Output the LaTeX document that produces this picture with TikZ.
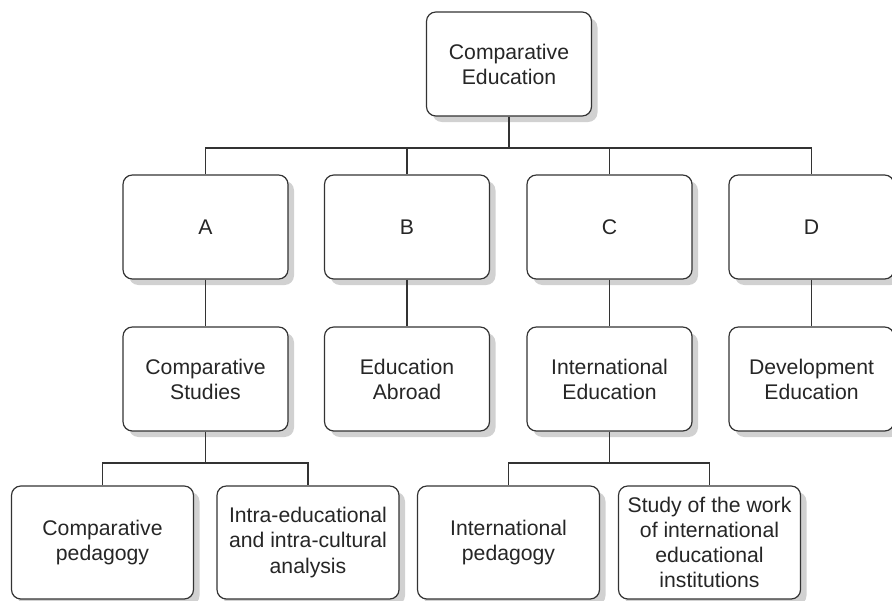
\documentclass[tikz,border=0pt]{standalone}
\usepackage{fontspec}
\setmainfont{Liberation Sans}
\usetikzlibrary{shadows}

\begin{document}
\begin{tikzpicture}[x=0.75pt, y=-0.75pt, line width=0.9pt, draw=black!80,
    box/.style={draw=black!80, fill=white, rounded corners=7pt, align=center,
        minimum width=123.75pt, minimum height=78pt, inner sep=0pt, text=black!85,
        font=\fontsize{15.9}{18.8}\selectfont,
        drop shadow={shadow xshift=4.5pt, shadow yshift=-4.5pt, fill=black!18, opacity=1}},
    leaf/.style={box, minimum width=136.5pt, minimum height=84.75pt}]
    \useasboundingbox (0,0) rectangle (892,600);

    \node[box] (top) at (509,64) {Comparative\\Education};

    \node[box] (a) at (205.5,227) {A};
    \node[box] (b) at (407,227) {B};
    \node[box] (c) at (609.5,227) {C};
    \node[box] (d) at (811.5,227) {D};

    \node[box] (cs) at (205.5,379) {Comparative\\Studies};
    \node[box] (ea) at (407,379) {Education\\Abroad};
    \node[box] (ie) at (609.5,379) {International\\Education};
    \node[box] (de) at (811.5,379) {Development\\Education};

    \node[leaf] (cp) at (102.5,542.5) {Comparative\\pedagogy};
    \node[leaf] (ia) at (308,542.5) {Intra-educational\\and intra-cultural\\analysis};
    \node[leaf] (ip) at (508.5,542.5) {International\\pedagogy};
    \node[leaf] (sw) at (709.5,542.5) {Study of the work\\of international\\educational\\institutions};

    \coordinate (bus1) at (0,148);
    \coordinate (bus2) at (0,463);

    \draw (top.south) -- (top.south |- bus1);
    \draw (a.north) |- (d.north |- bus1) -- (d.north);
    \draw (b.north) -- (b.north |- bus1);
    \draw (c.north) -- (c.north |- bus1);

    \draw (a.south) -- (cs.north);
    \draw (b.south) -- (ea.north);
    \draw (c.south) -- (ie.north);
    \draw (d.south) -- (de.north);

    \draw (cs.south) -- (cs.south |- bus2);
    \draw (cp.north) |- (ia.north |- bus2) -- (ia.north);
    \draw (ie.south) -- (ie.south |- bus2);
    \draw (ip.north) |- (sw.north |- bus2) -- (sw.north);
\end{tikzpicture}
\end{document}
